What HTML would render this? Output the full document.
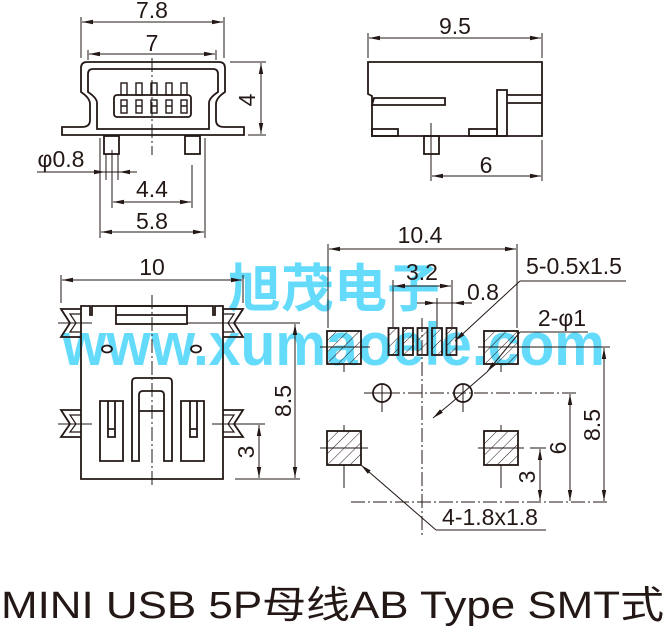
<!DOCTYPE html>
<html><head><meta charset="utf-8"><style>
html,body{margin:0;padding:0;background:#fff;}
svg{display:block;}
text{font-family:"Liberation Sans","Noto Sans CJK SC",sans-serif;fill:#231815;}
</style></head><body>
<svg width="666" height="630" viewBox="0 0 666 630" xmlns="http://www.w3.org/2000/svg">
<defs>
<marker id="a" markerUnits="userSpaceOnUse" markerWidth="12" markerHeight="6" refX="11" refY="3" orient="auto-start-reverse">
<path d="M0,0.8 L11,3 L0,5.2 Z" fill="#231815"/>
</marker>
<pattern id="h" patternUnits="userSpaceOnUse" width="8" height="8" patternTransform="rotate(45)">
<line x1="0" y1="0" x2="0" y2="8" stroke="#231815" stroke-width="1"/>
</pattern>
</defs>

<g opacity="0.9">
<text x="228" y="307" font-size="52" font-weight="bold" textLength="212" lengthAdjust="spacingAndGlyphs" style="fill:#55d8fc">旭茂电子</text>
<text x="62" y="365" font-size="60" font-weight="bold" textLength="543" lengthAdjust="spacingAndGlyphs" style="fill:#55d8fc">www.xumaoele.com</text>
</g>

<g fill="none" stroke="#231815">
<g stroke-width="1">
<line x1="81" y1="17" x2="81" y2="58"/><line x1="224" y1="17" x2="224" y2="58"/>
<line x1="82" y1="22" x2="223" y2="22" marker-start="url(#a)" marker-end="url(#a)"/>
<line x1="88" y1="50" x2="88" y2="60"/><line x1="216" y1="50" x2="216" y2="60"/>
<line x1="89" y1="54" x2="215" y2="54" marker-start="url(#a)" marker-end="url(#a)"/>
<line x1="152" y1="58" x2="152" y2="155" stroke-dasharray="14 3 2 3"/>
<line x1="230" y1="62" x2="266" y2="62"/><line x1="248" y1="135" x2="266" y2="135"/>
<line x1="261" y1="63" x2="261" y2="134" marker-start="url(#a)" marker-end="url(#a)"/>
<line x1="37" y1="172" x2="137" y2="172"/>
<line x1="94" y1="172" x2="105" y2="172" marker-end="url(#a)"/>
<line x1="130" y1="172" x2="119" y2="172" marker-end="url(#a)"/>
<line x1="106" y1="154" x2="106" y2="180"/><line x1="118" y1="154" x2="118" y2="180"/>
<line x1="112" y1="150" x2="112" y2="208"/><line x1="192" y1="165" x2="192" y2="208"/>
<line x1="113" y1="202" x2="191" y2="202" marker-start="url(#a)" marker-end="url(#a)"/>
<line x1="100" y1="138" x2="100" y2="238"/><line x1="205" y1="138" x2="205" y2="238"/>
<line x1="101" y1="232" x2="204" y2="232" marker-start="url(#a)" marker-end="url(#a)"/>
</g>
<g stroke-width="1.8">
<path d="M62,135 L62,127 L82,127 Q90,127 90,120 L90,104 Q90,98 81,92 L81,68 Q81,62 87,62 L219,62 Q225,62 225,68 L225,92 Q216,98 216,104 L216,120 Q216,127 224,127 L244,127 L244,135 Z"/>
<path d="M97,129 L97,103 Q97,98 88,92 L88,74 Q88,69 93,69 L213,69 Q218,69 218,74 L218,92 Q209,98 209,103 L209,129 Z"/>
<rect x="114" y="95" width="77" height="22" rx="3"/>
<rect x="104" y="136" width="15" height="18"/><rect x="185" y="136" width="15" height="18"/>
</g>
<g stroke-width="1.4">
<rect x="121" y="83" width="6" height="12"/><rect x="136" y="83" width="6" height="12"/><rect x="151" y="83" width="6" height="12"/><rect x="166" y="83" width="6" height="12"/><rect x="181" y="83" width="6" height="12"/>
<rect x="121" y="100" width="6" height="13"/><rect x="136" y="100" width="6" height="13"/><rect x="151" y="100" width="6" height="13"/><rect x="166" y="100" width="6" height="13"/><rect x="181" y="100" width="6" height="13"/>
<path d="M121,106h6M136,106h6M151,106h6M166,106h6M181,106h6"/>
</g>

<g stroke-width="1">
<line x1="368" y1="33" x2="368" y2="58"/><line x1="542" y1="33" x2="542" y2="58"/>
<line x1="369" y1="38" x2="541" y2="38" marker-start="url(#a)" marker-end="url(#a)"/>
<line x1="431" y1="123" x2="431" y2="181"/><line x1="542" y1="140" x2="542" y2="181"/>
<line x1="432" y1="176" x2="541" y2="176" marker-start="url(#a)" marker-end="url(#a)"/>
</g>
<g stroke-width="1.8">
<path d="M368,94 L368,62 L542,62 L542,136 L372,136 L372,96 Z"/>
<path d="M372,105 L374,98 L445,98 L445,105 Z"/>
<rect x="497" y="90" width="10" height="46"/>
<path d="M507,95 L542,95 M507,103 L542,103"/>
<rect x="372" y="129" width="26" height="7"/><rect x="469" y="129" width="28" height="7"/>
<rect x="424" y="136" width="15" height="18"/>
</g>

<g stroke-width="1">
<line x1="61" y1="275" x2="61" y2="303"/><line x1="243" y1="275" x2="243" y2="303"/>
<line x1="62" y1="280" x2="242" y2="280" marker-start="url(#a)" marker-end="url(#a)"/>
<line x1="152" y1="295" x2="152" y2="487" stroke-dasharray="14 3 2 3"/>
<line x1="187" y1="323" x2="300" y2="323"/><line x1="235" y1="479" x2="300" y2="479"/>
<line x1="295" y1="324" x2="295" y2="478" marker-start="url(#a)" marker-end="url(#a)"/>
<line x1="212" y1="424" x2="265" y2="424"/>
<line x1="259" y1="425" x2="259" y2="478" marker-start="url(#a)" marker-end="url(#a)"/>
<line x1="58" y1="424" x2="92" y2="424"/>
<line x1="58" y1="323" x2="92" y2="323"/>
</g>
<g stroke-width="1.8">
<path d="M81,479 L81,306 L90,306 L90,315 L92,315 L92,306 L213,306 L213,315 L215,315 L215,306 L223,306 L223,479 Z"/>
<rect x="116" y="306" width="71" height="18"/><line x1="116" y1="315" x2="187" y2="315"/>
<path d="M81,309 L61,309 L70,323 L61,337 L81,337"/>
<path d="M81,410 L61,410 L70,424 L61,437 L81,437"/>
<path d="M223,309 L243,309 L234,323 L243,337 L223,337"/>
<path d="M223,410 L243,410 L234,424 L243,437 L223,437"/>
<ellipse cx="107" cy="349" rx="5" ry="3.5"/><ellipse cx="196" cy="349" rx="5" ry="3.5"/>
<path d="M132,461 L132,382 Q132,378 136,378 L168,378 Q172,378 172,382 L172,461 L164,461 L164,395 Q164,391 160,391 L143,391 Q139,391 139,395 L139,461 Z"/>
<line x1="139" y1="411" x2="164" y2="411"/>
<path d="M100,401 L123,401 L123,461 L100,461 Z M108,401 L108,437 L115,437 L115,401 M108,429 L115,429"/>
<path d="M181,401 L204,401 L204,461 L181,461 Z M190,401 L190,437 L197,437 L197,401 M190,429 L197,429"/>
</g>
<g stroke-width="1.2">
<path d="M81,314 L70,314 L76,323 L70,332 L81,332"/>
<path d="M81,415 L70,415 L76,424 L70,432 L81,432"/>
<path d="M223,314 L234,314 L228,323 L234,332 L223,332"/>
<path d="M223,415 L234,415 L228,424 L234,432 L223,432"/>
</g>

<g stroke-width="1">
<line x1="328" y1="244" x2="328" y2="328"/><line x1="517" y1="244" x2="517" y2="328"/>
<line x1="329" y1="249" x2="516" y2="249" marker-start="url(#a)" marker-end="url(#a)"/>
<line x1="393" y1="280" x2="393" y2="327"/><line x1="452" y1="280" x2="452" y2="327"/>
<line x1="394" y1="286" x2="451" y2="286" marker-start="url(#a)" marker-end="url(#a)"/>
<line x1="437" y1="298" x2="437" y2="327"/>
<line x1="417" y1="303" x2="472" y2="303"/>
<line x1="420" y1="303" x2="436" y2="303" marker-end="url(#a)"/>
<line x1="470" y1="303" x2="453" y2="303" marker-end="url(#a)"/>
<line x1="520" y1="281" x2="626" y2="281"/>
<line x1="520" y1="281" x2="455" y2="341" marker-end="url(#a)"/>
<line x1="520" y1="332" x2="588" y2="332"/>
<line x1="520" y1="332" x2="487" y2="372" marker-end="url(#a)"/>
<line x1="433" y1="418" x2="450" y2="404" marker-start="url(#a)"/>
<line x1="450" y1="404" x2="487" y2="372"/>
<line x1="436" y1="530" x2="546" y2="530"/>
<line x1="436" y1="530" x2="361" y2="465" marker-end="url(#a)"/>
<line x1="422" y1="318" x2="422" y2="537" stroke-dasharray="14 3 2 3"/>
<line x1="364" y1="393" x2="578" y2="393" stroke-dasharray="14 3 2 3"/>
<line x1="351" y1="502" x2="610" y2="502" stroke-dasharray="14 3 2 3"/>
<line x1="520" y1="347" x2="610" y2="347"/>
<line x1="604" y1="348" x2="604" y2="501" marker-start="url(#a)" marker-end="url(#a)"/>
<line x1="570" y1="394" x2="570" y2="501" marker-start="url(#a)" marker-end="url(#a)"/>
<line x1="530" y1="448" x2="546" y2="448"/>
<line x1="540" y1="449" x2="540" y2="501" marker-start="url(#a)" marker-end="url(#a)"/>
<line x1="320" y1="347" x2="370" y2="347"/><line x1="344" y1="364" x2="344" y2="372"/>
<line x1="478" y1="347" x2="520" y2="347"/><line x1="501" y1="364" x2="501" y2="372"/>
<line x1="320" y1="448" x2="368" y2="448"/><line x1="344" y1="425" x2="344" y2="431"/><line x1="344" y1="465" x2="344" y2="488"/>
<line x1="478" y1="448" x2="524" y2="448"/><line x1="501" y1="425" x2="501" y2="431"/><line x1="501" y1="465" x2="501" y2="488"/>
<line x1="382" y1="384" x2="382" y2="412"/><line x1="463" y1="384" x2="463" y2="412"/>
<line x1="364" y1="393" x2="392" y2="393"/>
</g>
<g stroke-width="1.8">
<rect x="327" y="331" width="34" height="33" fill="url(#h)"/>
<rect x="484" y="331" width="34" height="33" fill="url(#h)"/>
<rect x="327" y="431" width="34" height="34" fill="url(#h)"/>
<rect x="484" y="431" width="34" height="34" fill="url(#h)"/>
<rect x="388.5" y="328" width="10" height="27" fill="url(#h)"/>
<rect x="403" y="328" width="10" height="27" fill="url(#h)"/>
<rect x="417.5" y="328" width="10" height="27" fill="url(#h)"/>
<rect x="432" y="328" width="10" height="27" fill="url(#h)"/>
<rect x="446.5" y="328" width="10" height="27" fill="url(#h)"/>
<circle cx="382" cy="393" r="9"/><circle cx="463" cy="393" r="9"/>
</g>
</g>

<g font-size="23" text-anchor="middle">
<text x="152" y="18">7.8</text>
<text x="152" y="51">7</text>
<text transform="translate(255,100) rotate(-90)">4</text>
<text x="61" y="167">φ0.8</text>
<text x="152" y="197">4.4</text>
<text x="152" y="229">5.8</text>
<text x="455" y="34">9.5</text>
<text x="486" y="173">6</text>
<text x="152" y="275">10</text>
<text transform="translate(291,401) rotate(-90)">8.5</text>
<text transform="translate(254,452) rotate(-90)">3</text>
<text x="420" y="243">10.4</text>
<text x="422" y="280">3.2</text>
<text x="483" y="300">0.8</text>
<text x="574" y="274">5-0.5x1.5</text>
<text x="562" y="326">2-φ1</text>
<text x="490" y="525">4-1.8x1.8</text>
<text transform="translate(600,425) rotate(-90)">8.5</text>
<text transform="translate(566,448) rotate(-90)">6</text>
<text transform="translate(535,477) rotate(-90)">3</text>
</g>
<text x="1" y="618" font-size="38" textLength="663" lengthAdjust="spacingAndGlyphs">MINI USB 5P母线AB Type SMT式</text>
</svg>
</body></html>
